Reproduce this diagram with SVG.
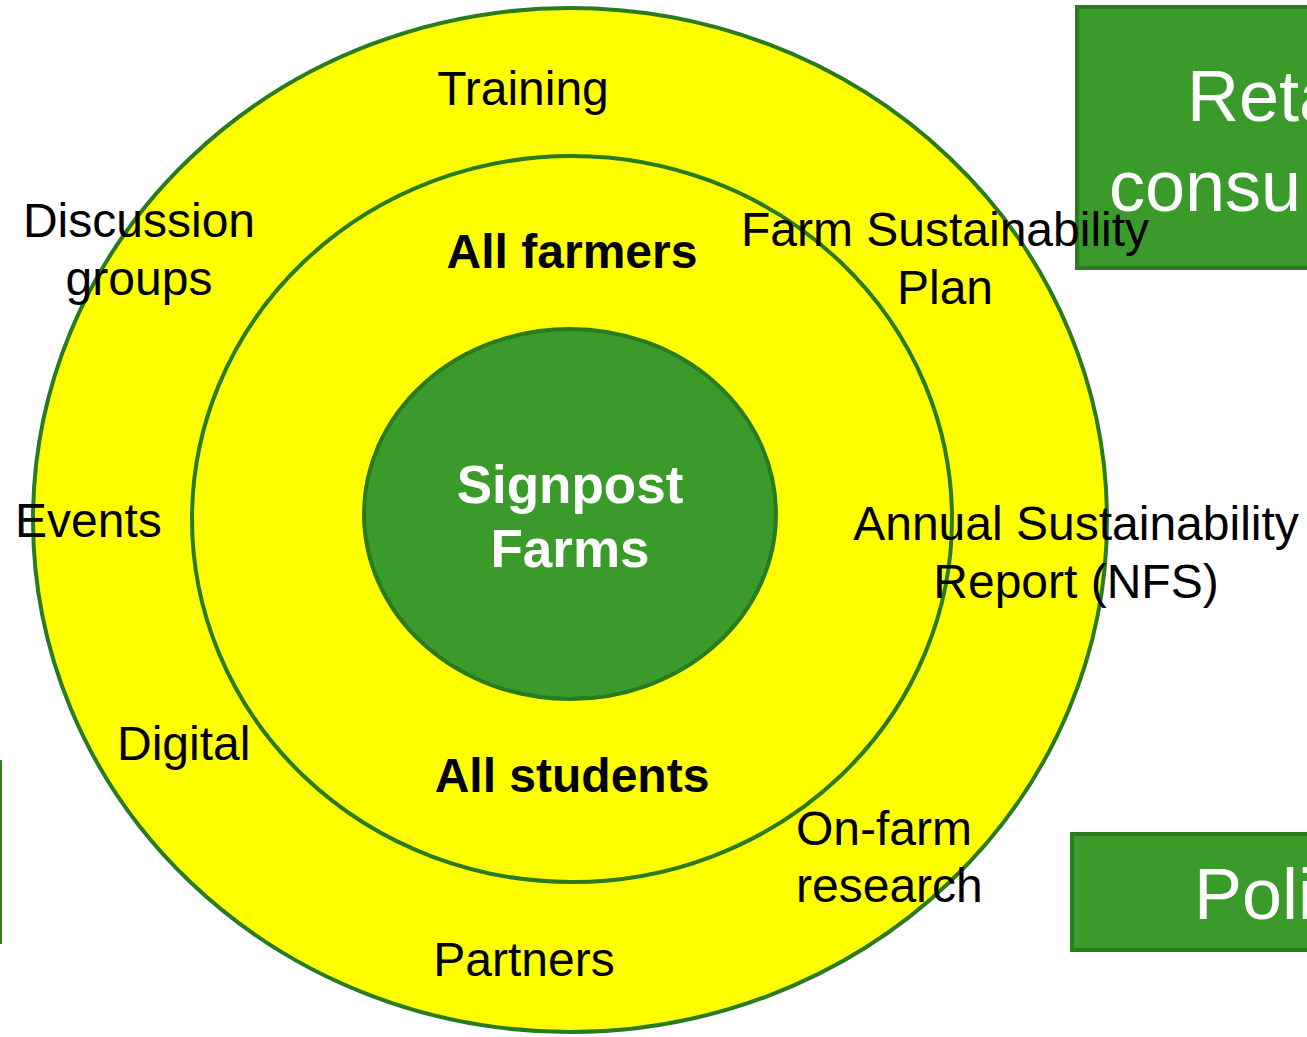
<svg xmlns="http://www.w3.org/2000/svg" width="1307" height="1037" viewBox="0 0 1307 1037">
<style>
.box{fill:#3a9a2a;stroke:#2a7a1e;stroke-width:4}
.ring{fill:#ffff00;stroke:#2a7a1e;stroke-width:4}
.core{fill:#3a9a2a;stroke:#2a7a1e;stroke-width:4}
.lbl{font-family:"Liberation Sans",Arial,sans-serif;font-size:48px;fill:#000}
.bold{font-family:"Liberation Sans",Arial,sans-serif;font-size:48px;font-weight:bold;fill:#000}
.white{font-family:"Liberation Sans",Arial,sans-serif;font-size:53px;font-weight:bold;fill:#fff}
.boxtxt{font-family:"Liberation Sans",Arial,sans-serif;font-size:72px;fill:#fff}
</style>
<rect width="1307" height="1037" fill="#fff"/>
<g id="box-retail">
<rect class="box" x="1077" y="7" width="260" height="261"/>
<text class="boxtxt" x="1187" y="121">Reta</text>
<text class="boxtxt" x="1109" y="211">consu</text>
</g>
<g id="box-policy">
<rect class="box" x="1072" y="834" width="260" height="116"/>
<text class="boxtxt" x="1194" y="919">Poli</text>
</g>
<g id="box-left">
<rect x="-20" y="761" width="21" height="182" fill="#3a9a2a" stroke="#2a7a1e" stroke-width="2"/>
</g>
<g id="outer-ring">
<ellipse class="ring" cx="570" cy="520" rx="537" ry="512"/>
</g>
<g id="middle-ring">
<ellipse class="ring" cx="572" cy="519" rx="380" ry="363"/>
</g>
<g id="signpost-farms">
<ellipse class="core" cx="570" cy="514" rx="206" ry="185"/>
<text class="white" x="570" y="503" text-anchor="middle">Signpost</text>
<text class="white" x="570" y="567" text-anchor="middle">Farms</text>
</g>
<g id="labels">
<text class="lbl" x="523" y="105" text-anchor="middle">Training</text>
<text class="lbl" x="139" y="237" text-anchor="middle">Discussion</text>
<text class="lbl" x="139" y="295" text-anchor="middle">groups</text>
<text class="lbl" x="945" y="246" text-anchor="middle">Farm Sustainability</text>
<text class="lbl" x="945" y="304" text-anchor="middle">Plan</text>
<text class="lbl" x="15" y="537">Events</text>
<text class="lbl" x="1076" y="540" text-anchor="middle">Annual Sustainability</text>
<text class="lbl" x="1076" y="598" text-anchor="middle">Report (NFS)</text>
<text class="lbl" x="117" y="760">Digital</text>
<text class="lbl" x="796" y="845">On-farm</text>
<text class="lbl" x="796" y="902">research</text>
<text class="lbl" x="524" y="976" text-anchor="middle">Partners</text>
<text class="bold" x="572" y="268" text-anchor="middle">All farmers</text>
<text class="bold" x="572" y="792" text-anchor="middle">All students</text>
</g>
<g id="connectors"></g>
</svg>
